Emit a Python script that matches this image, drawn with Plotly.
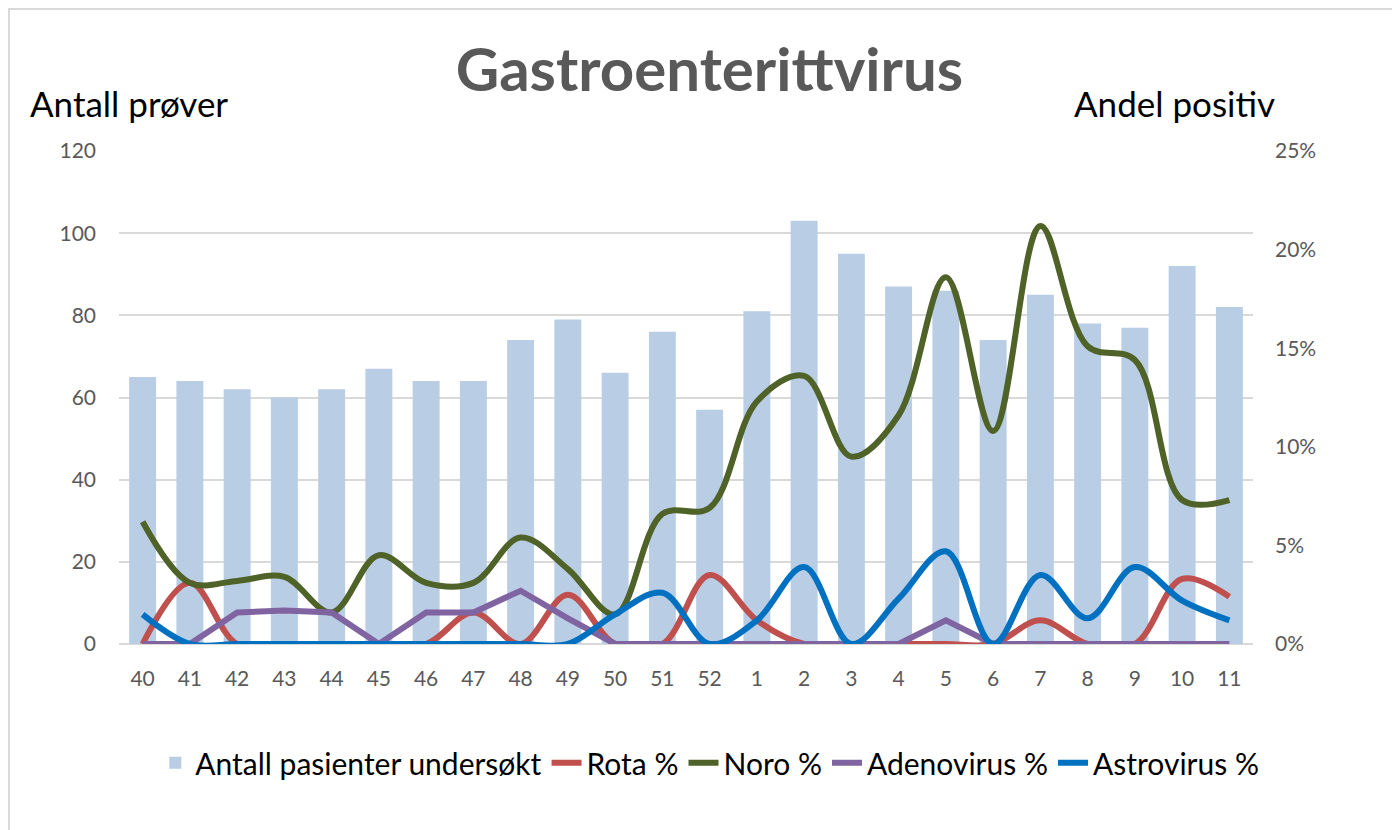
import plotly.graph_objects as go

# weeks (category labels)
weeks = ["40", "41", "42", "43", "44", "45", "46", "47", "48", "49", "50", "51", "52",
         "1", "2", "3", "4", "5", "6", "7", "8", "9", "10", "11"]

# number of patients examined (left axis)
antall = [65, 64, 62, 60, 62, 67, 64, 64, 74, 79, 66, 76, 57,
          81, 103, 95, 87, 86, 74, 85, 78, 77, 92, 82]

# percent positive (right axis)
rota = [0, 3.1, 0, 0, 0, 0, 0, 1.6, 0, 2.5, 0, 0, 3.5,
        1.2, 0, 0, 0, 0, 0, 1.2, 0, 0, 3.3, 2.4]
noro = [6.2, 3.1, 3.2, 3.4, 1.6, 4.5, 3.1, 3.1, 5.4, 3.8, 1.5, 6.6, 6.9,
        12.3, 13.6, 9.5, 11.6, 18.6, 10.8, 21.2, 15.1, 14.4, 7.3, 7.3]
adeno = [0, 0, 1.6, 1.7, 1.6, 0, 1.6, 1.6, 2.7, 1.3, 0, 0, 0,
         0, 0, 0, 0, 1.2, 0, 0, 0, 0, 0, 0]
astro = [1.5, 0, 0, 0, 0, 0, 0, 0, 0, 0, 1.5, 2.6, 0,
         1.2, 3.9, 0, 2.3, 4.7, 0, 3.5, 1.3, 3.9, 2.2, 1.2]

FONT = "Lato"
GREY = "#595959"

# plot area in pixels, used for placing the outer frame
L, T, W, H = 111, 143, 1134, 493

fig = go.Figure()

fig.add_trace(go.Bar(x=weeks, y=antall, name="Antall pasienter undersøkt",
                     marker=dict(color="#B9CDE5", line=dict(width=0))))

lines = [
    ("Rota %", rota, "#C0504D", "spline"),
    ("Noro %", noro, "#4F6228", "spline"),
    ("Adenovirus %", adeno, "#8064A2", "linear"),
    ("Astrovirus %", astro, "#0070C0", "spline"),
]
for name, vals, col, shape in lines:
    fig.add_trace(go.Scatter(x=weeks, y=vals, name=name, yaxis="y2", mode="lines",
                             line=dict(color=col, width=6, shape=shape, smoothing=1),
                             cliponaxis=False))

fig.update_layout(
    width=1400, height=830,
    paper_bgcolor="white", plot_bgcolor="white",
    margin=dict(l=L, r=1400 - L - W, t=T, b=830 - T - H),
    font=dict(family=FONT, color=GREY, size=21),
    bargap=0.43,
    showlegend=True,
    legend=dict(orientation="h", x=0.521, xanchor="center", y=-0.241, yanchor="middle",
                font=dict(size=30, color="black"), traceorder="normal"),
    title=dict(text="<b>Gastroenterittvirus</b>", x=0.501, xanchor="center",
               y=0.925, yanchor="middle", font=dict(size=60, color=GREY, family=FONT)),
    xaxis=dict(type="category", showgrid=False, showline=False, ticks="",
               ticklabelstandoff=20, tickfont=dict(size=21, color=GREY)),
    yaxis=dict(range=[0, 120], dtick=20, showgrid=True, gridcolor="#D9D9D9", gridwidth=2,
               zeroline=True, zerolinecolor="#D9D9D9", zerolinewidth=2,
               ticks="", ticklabelstandoff=22, tickfont=dict(size=21, color=GREY)),
    yaxis2=dict(range=[0, 25], dtick=5, ticksuffix="%", overlaying="y", side="right",
                showgrid=False, zeroline=False, ticks="", ticklabelstandoff=21,
                tickfont=dict(size=21, color=GREY)),
    annotations=[
        dict(text="Antall prøver", xref="paper", yref="paper", x=-0.0802, y=1.097,
             xanchor="left", yanchor="middle", showarrow=False,
             font=dict(size=35, color="black", family=FONT)),
        dict(text="Andel positiv", xref="paper", yref="paper", x=1.021, y=1.097,
             xanchor="right", yanchor="middle", showarrow=False,
             font=dict(size=35, color="black", family=FONT)),
    ],
    shapes=[
        dict(type="rect", xref="paper", yref="paper",
             x0=(1 - L) / W, x1=(1500 - L) / W,
             y0=-1.0, y1=(T + H - 1) / H,
             line=dict(color="#D9D9D9", width=2), fillcolor="rgba(0,0,0,0)", layer="below"),
    ],
)

fig.write_html("out.html")
